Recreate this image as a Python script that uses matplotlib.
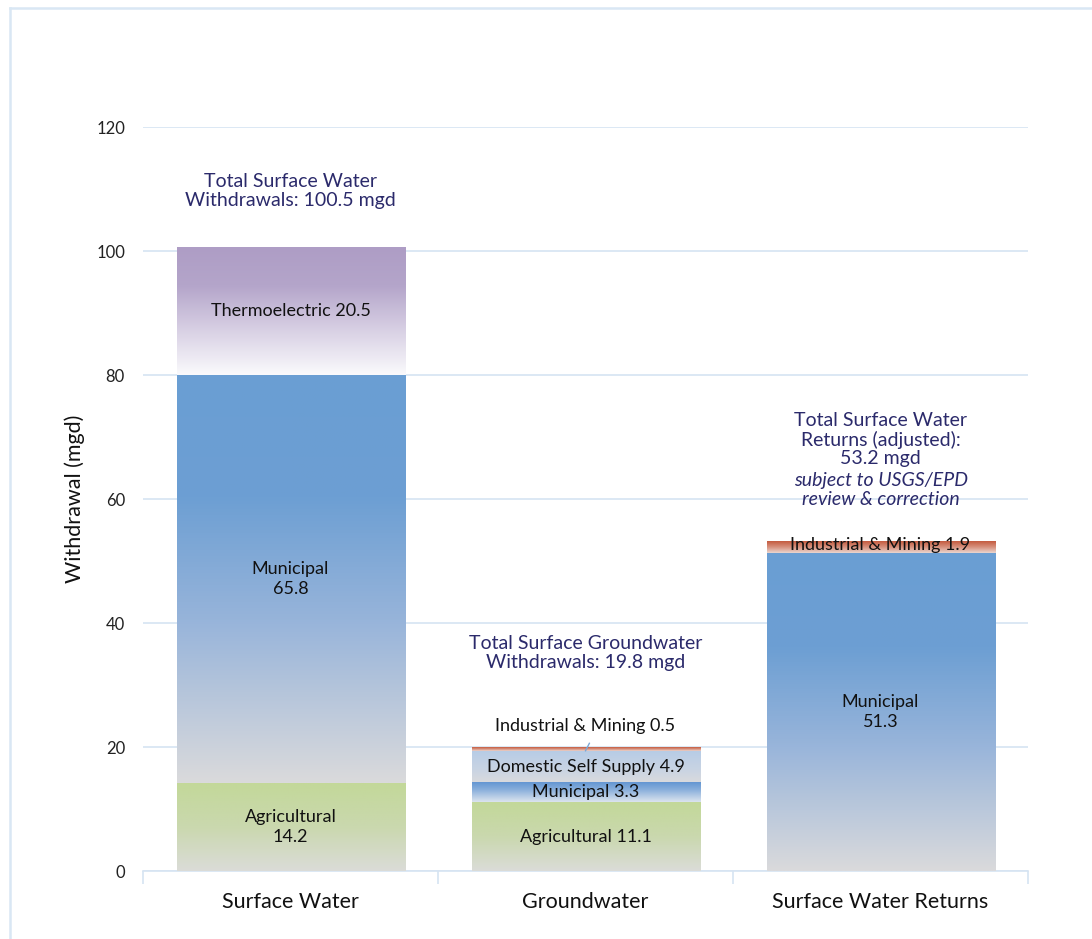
import numpy as np
import matplotlib
matplotlib.use("Agg")
import matplotlib.pyplot as plt
from matplotlib.colors import to_rgb
from matplotlib.lines import Line2D

# Данные
categories = ["Surface Water", "Groundwater", "Surface Water Returns"]

sw_values = [14.2, 65.8, 20.5]
sw_labels = ["Agricultural\n14.2", "Municipal\n65.8", "Thermoelectric 20.5"]
sw_kinds = ["agri", "muni", "thermo"]

gw_values = [11.1, 3.3, 4.9, 0.5]
gw_labels = ["Agricultural 11.1", "Municipal 3.3", "Domestic Self Supply 4.9", "Industrial & Mining 0.5"]
gw_kinds = ["agri", "muni_small", "domestic", "industrial"]

ret_values = [51.3, 1.9]
ret_labels = ["Municipal\n51.3", "Industrial & Mining 1.9"]
ret_kinds = ["muni", "industrial"]

totals_text = [
    "Total Surface Water\nWithdrawals: 100.5 mgd",
    "Total Surface Groundwater\nWithdrawals: 19.8 mgd",
    "Total Surface Water\nReturns (adjusted):\n53.2 mgd",
]

# градиенты: (позиция сверху вниз, цвет)
gradients = {
    "thermo": [(0.0, "#AE9DC5"), (0.3, "#B4A5CA"), (0.65, "#D8D0E4"), (1.0, "#FAFAFC")],
    "muni": [(0.0, "#6A9ED3"), (0.3, "#6D9FD3"), (0.6, "#97B4DA"), (1.0, "#DADADC")],
    "agri": [(0.0, "#C3D899"), (0.5, "#CAD8AE"), (1.0, "#DBDCD8")],
    "muni_small": [(0.0, "#5F93D1"), (0.4, "#88AEDB"), (1.0, "#DCE4EE")],
    "domestic": [(0.0, "#B7CCE6"), (0.6, "#C9D4E3"), (1.0, "#D9DADD")],
    "industrial": [(0.0, "#C45A3E"), (0.5, "#D7907C"), (1.0, "#EAD6D0")],
}

navy = "#2B2A6B"
grid_col = "#D6E4F2"
font = "Lato"
narrow = ["Liberation Sans Narrow", "Lato"]


def gradient_image(kind, n=200):
    stops = gradients[kind]
    pos = np.array([s[0] for s in stops])
    cols = np.array([to_rgb(s[1]) for s in stops])
    t = np.linspace(0, 1, n)
    img = np.stack([np.interp(t, pos, cols[:, k]) for k in range(3)], axis=-1)
    return img[:, None, :]


fig = plt.figure(figsize=(10.92, 9.39), dpi=100)
ax = fig.add_axes([0.131, 0.0724, 0.8104, 0.7923])

# рамка
fig.add_artist(Line2D([0.0095, 1.0], [0.9915, 0.9915], transform=fig.transFigure, color="#D9E7F4", lw=1.8))
fig.add_artist(Line2D([0.0095, 0.0095], [0.0, 0.9915], transform=fig.transFigure, color="#D9E7F4", lw=1.8))

width = 0.773
stacks = [
    (sw_values, sw_labels, sw_kinds),
    (gw_values, gw_labels, gw_kinds),
    (ret_values, ret_labels, ret_kinds),
]

for i, (vals, labels, kinds) in enumerate(stacks):
    bottom = 0.0
    total = sum(vals)
    # тень
    ax.bar(i + 0.006, total, width=width, bottom=-0.5, color="#BDBDBD", alpha=0.5, zorder=1.5, linewidth=0)
    for v, lab, kind in zip(vals, labels, kinds):
        ax.imshow(gradient_image(kind), extent=[i - width / 2, i + width / 2, bottom, bottom + v],
                  aspect="auto", zorder=2, interpolation="bilinear")
        bottom += v

    # подписи сегментов
    bottom = 0.0
    for v, lab, kind in zip(vals, labels, kinds):
        y = bottom + v / 2
        if i == 1 and kind == "industrial":
            y = bottom + 4.1
            ax.plot([i, i + 0.013], [bottom + 0.1, bottom + 1.3], color="#7BA7D6", lw=1, zorder=3)
        elif kind == "industrial":
            y = bottom + v / 2 + 0.4
        ax.text(i, y, lab, ha="center", va="center", fontsize=13, color="#111111",
                family=font, zorder=4, linespacing=1.35)
        bottom += v

# итоги
tot_offsets = [9.2, 15.4, 0]
for i, (vals, txt) in enumerate(zip([sw_values, gw_values, ret_values], totals_text)):
    total = sum(vals)
    if i == 2:
        ax.text(i, total + 16.4, txt, ha="center", va="center", fontsize=14, color=navy,
                family=font, linespacing=1.12)
        ax.text(i, total + 8.3, "subject to USGS/EPD\nreview & correction", ha="center", va="center",
                fontsize=14, color=navy, family=font, style="italic", linespacing=1.12)
    else:
        ax.text(i, total + tot_offsets[i], txt, ha="center", va="center", fontsize=14,
                color=navy, family=font, linespacing=1.12)

# оси
ax.set_xlim(-0.5, 2.5)
ax.set_ylim(0, 120)
ax.set_yticks(np.arange(0, 121, 20))
ax.set_yticklabels([str(v) for v in range(0, 121, 20)], fontsize=12, family=font, color="#222222")
ax.tick_params(axis="y", length=0, pad=13)
ax.set_xticks(range(len(categories)))
ax.set_xticklabels(categories, fontsize=15.5, family=narrow, color="#111111")
ax.tick_params(axis="x", length=0, pad=15)
ax.set_xticks([-0.5, 0.5, 1.5, 2.5], minor=True)
ax.tick_params(axis="x", which="minor", length=9, color=grid_col, width=1.2)
ax.set_ylabel("Withdrawal (mgd)", fontsize=15.5, family=narrow, color="#111111", labelpad=8)

ax.grid(True, axis="y", color=grid_col, lw=1.2, zorder=0)
ax.set_axisbelow(True)
for s in ["top", "right", "left"]:
    ax.spines[s].set_visible(False)
ax.spines["bottom"].set_color(grid_col)
ax.spines["bottom"].set_linewidth(1.2)
ax.spines["bottom"].set_zorder(0.5)

fig.savefig("out.png", dpi=100)
